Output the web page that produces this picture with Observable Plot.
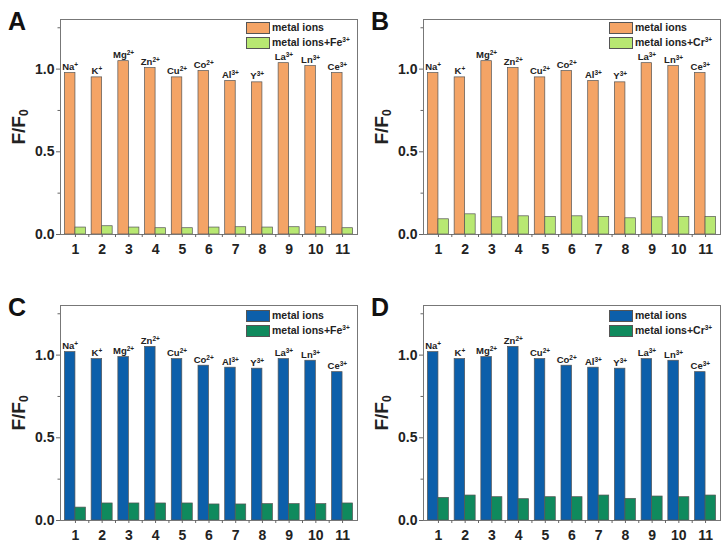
<!DOCTYPE html>
<html>
<head>
<meta charset="utf-8">
<script src="https://cdn.jsdelivr.net/npm/d3@7"></script>
<script src="https://cdn.jsdelivr.net/npm/@observablehq/plot@0.6"></script>
<style>
  html, body { margin: 0; padding: 0; background: #fff; overflow: hidden; }
  #root { position: relative; width: 726px; height: 547px; font-family: "Liberation Sans", Arial, sans-serif; color: #222; }
  .panel { position: absolute; width: 363px; }
  .panel svg { display: block; }
  .letter { position: absolute; font-size: 25px; font-weight: bold; line-height: 25px; color: #111; }
  .ytitle { position: absolute; width: 100px; height: 22px; line-height: 22px; text-align: center; font-size: 19px; font-weight: bold; transform: rotate(-90deg); color: #222; }
  .ytitle sub { font-size: 12px; vertical-align: -3px; }
  .legend { position: absolute; font-size: 10.5px; font-weight: bold; color: #222; }
  .legend .row { position: absolute; white-space: nowrap; height: 12px; }
  .legend .sw { position: absolute; left: 0; top: 0; width: 22px; height: 10px; border: 1px solid #555; }
  .legend .lb { position: absolute; left: 26px; top: -1px; line-height: 12px; }
  .legend sup { font-size: 6.5px; vertical-align: 4px; line-height: 0; }
</style>
</head>
<body>
<div id="root"></div>
<script>
// ---- data ----
const cats = ["1","2","3","4","5","6","7","8","9","10","11"];
const ions = ["Na","K","Mg","Zn","Cu","Co","Al","Y","La","Ln","Ce"];
const charges = ["+","+","2+","2+","2+","2+","3+","3+","3+","3+","3+"];
const yTicks = [0, 0.5, 1.0];
const yMinorTicks = [0.25, 0.75, 1.25];

const ionsA = [0.976, 0.950, 1.048, 1.006, 0.950, 0.988, 0.928, 0.920, 1.036, 1.018, 0.976];
const feA   = [0.042, 0.050, 0.042, 0.038, 0.038, 0.042, 0.044, 0.042, 0.044, 0.044, 0.038];
const ionsB = [0.976, 0.950, 1.048, 1.006, 0.950, 0.988, 0.928, 0.920, 1.036, 1.018, 0.976];
const crB   = [0.092, 0.122, 0.104, 0.110, 0.106, 0.110, 0.106, 0.098, 0.104, 0.106, 0.106];
const ionsC = [1.018, 0.976, 0.988, 1.050, 0.976, 0.936, 0.924, 0.918, 0.976, 0.966, 0.897];
const feC   = [0.078, 0.103, 0.103, 0.103, 0.103, 0.097, 0.097, 0.099, 0.099, 0.099, 0.103];
const ionsD = [1.018, 0.976, 0.988, 1.050, 0.976, 0.936, 0.924, 0.918, 0.976, 0.966, 0.897];
const crD   = [0.137, 0.151, 0.141, 0.129, 0.141, 0.141, 0.151, 0.131, 0.145, 0.141, 0.151];

const legendBase = "metal ions";
const legendFe = ["metal ions+Fe", "3+"];
const legendCr = ["metal ions+Cr", "3+"];

// ---- layout ----
const W = 363, H = 262;
const mL = 60, mR = 6, mT = 19, mB = 28;
const pInner = 0.213, pOuter = 0.166;
const font = '"Liberation Sans", Arial, sans-serif';

const root = document.getElementById("root");

function panel({letter, base, added, c1, c2, addLabel, left, top, legendTop}) {
  const rows = cats.map((c, i) => ({cat: c, base: base[i], added: added[i], ion: ions[i], charge: charges[i]}));
  const band = d3.scaleBand().domain(cats).range([mL, W - mR]).paddingInner(pInner).paddingOuter(pOuter);
  const bw = band.bandwidth();
  const step = band.step();

  const chart = Plot.plot({
    width: W, height: H,
    marginLeft: mL, marginRight: mR, marginTop: mT, marginBottom: mB,
    style: {fontFamily: font, fontSize: "14px", fontWeight: "bold", color: "#222", background: "transparent"},
    x: {domain: cats, paddingInner: pInner, paddingOuter: pOuter, round: false, label: null},
    y: {domain: [0, 1.3], label: null},
    marks: [
      Plot.barY(rows, {x: "cat", y: "base", fill: c1, stroke: "#555", strokeWidth: 0.7, insetRight: bw / 2}),
      Plot.barY(rows, {x: "cat", y: "added", fill: c2, stroke: "#555", strokeWidth: 0.7, insetLeft: bw / 2}),
      Plot.frame({stroke: "#777", strokeWidth: 1}),
      Plot.axisY({ticks: yTicks, tickFormat: d3.format(".1f"), tickSize: 4, tickPadding: 2, stroke: "#666", fill: "#222", label: null}),
      Plot.axisY({ticks: yMinorTicks, tickFormat: () => "", tickSize: 2.5, stroke: "#666", label: null}),
      Plot.axisX({tickSize: 3, tickPadding: 7, stroke: "#666", fill: "#222", label: null}),
      Plot.axisX({ticks: cats.slice(0, 10), tickFormat: () => "", tickSize: 3, stroke: "#666", dx: step / 2, label: null}),
      Plot.text(rows, {x: "cat", y: "base", text: d => d.ion + "^" + d.charge, dx: -bw / 4, dy: -3, lineAnchor: "bottom", fontSize: 9.5, fontWeight: "bold", fill: "#222"})
    ]
  });

  // superscripts on ion labels
  chart.querySelectorAll("text").forEach(t => {
    if (!t.textContent.includes("^")) return;
    const [name, ch] = t.textContent.split("^");
    t.textContent = name;
    const sp = document.createElementNS("http://www.w3.org/2000/svg", "tspan");
    sp.setAttribute("dy", "-0.45em");
    sp.setAttribute("font-size", "6.5");
    sp.textContent = ch;
    t.appendChild(sp);
  });

  const div = document.createElement("div");
  div.className = "panel";
  div.style.left = left + "px";
  div.style.top = top + "px";
  div.style.height = H + "px";
  div.appendChild(chart);

  const lt = document.createElement("div");
  lt.className = "letter";
  lt.style.left = "8px";
  lt.style.top = "9px";
  lt.textContent = letter;
  div.appendChild(lt);

  const yt = document.createElement("div");
  yt.className = "ytitle";
  yt.style.left = (19 - 50) + "px";
  yt.style.top = (127 - 11) + "px";
  yt.innerHTML = "F/F<sub>0</sub>";
  div.appendChild(yt);

  const lg = document.createElement("div");
  lg.className = "legend";
  lg.style.left = "246px";
  lg.style.top = legendTop + "px";
  lg.innerHTML =
    `<div class="row" style="top:0px"><div class="sw" style="background:${c1}"></div><div class="lb">${legendBase}</div></div>` +
    `<div class="row" style="top:15px"><div class="sw" style="background:${c2}"></div><div class="lb">${addLabel[0]}<sup>${addLabel[1]}</sup></div></div>`;
  div.appendChild(lg);

  root.appendChild(div);
}

const orange = "#F4A466", lime = "#B8E872", blue = "#0C5FAA", green = "#0F8A5D";

panel({letter: "A", base: ionsA, added: feA, c1: orange, c2: lime, addLabel: legendFe, left: 0, top: 0, legendTop: 22});
panel({letter: "B", base: ionsB, added: crB, c1: orange, c2: lime, addLabel: legendCr, left: 363, top: 0, legendTop: 22});
panel({letter: "C", base: ionsC, added: feC, c1: blue, c2: green, addLabel: legendFe, left: 0, top: 286, legendTop: 24});
panel({letter: "D", base: ionsD, added: crD, c1: blue, c2: green, addLabel: legendCr, left: 363, top: 286, legendTop: 24});
</script>
</body>
</html>
